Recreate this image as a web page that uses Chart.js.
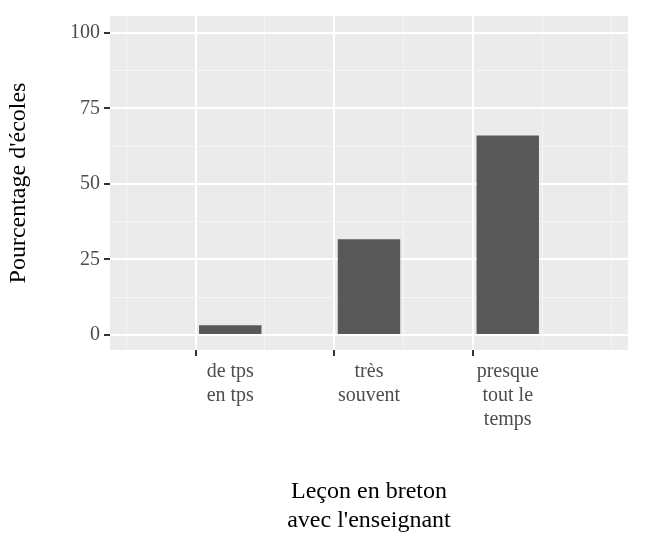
<!DOCTYPE html>
<html><head><meta charset="utf-8">
<script src="https://cdn.jsdelivr.net/npm/chart.js@4"></script>
<style>body{margin:0;background:#fff}#w{width:645px;height:539px}</style>
</head><body><div id="w"><canvas id="c"></canvas></div>
<script>
const categories = [["de tps","en tps"],["très","souvent"],["presque","tout le","temps"]];
const values = [3.2, 31.7, 66];
const yTicks = [0,25,50,75,100];
const F = "'Liberation Serif','DejaVu Serif',serif";
const bg = {id:'bg',beforeDraw(ch){const a=ch.chartArea,c=ch.ctx;c.save();c.fillStyle='#ebebeb';c.fillRect(a.left,a.top,a.right-a.left,a.bottom-a.top);c.restore();}};
const tv = c => (c && c.tick) ? c.tick.value : NaN;
const xMaj = c => { const v=tv(c); return Math.abs(v-Math.round(v))<1e-6; };
const yMaj = c => { const v=tv(c); return yTicks.includes(v); };
new Chart(document.getElementById('c'),{
type:'bar',
data:{datasets:[{data:values.map((v,i)=>({x:i+1,y:v})),backgroundColor:'#595959',barPercentage:0.9,categoryPercentage:1}]},
options:{responsive:true,maintainAspectRatio:false,animation:false,
layout:{padding:{top:15,right:17,left:0,bottom:0}},
plugins:{legend:{display:false},tooltip:{enabled:false}},
scales:{
x:{type:'linear',min:0.4,max:3.6,
 afterBuildTicks(s){s.ticks=[0.5,1,1.5,2,2.5,3,3.5].map(v=>({value:v}));},
 afterFit(s){s.height=189;},
 ticks:{autoSkip:false,maxRotation:0,color:'#4d4d4d',font:{family:F,size:20},padding:4,
  callback:v=>Math.abs(v-Math.round(v))<1e-6?categories[Math.round(v)-1]:''},
 grid:{color:c=>xMaj(c)?'#ffffff':'#f5f5f5',lineWidth:c=>xMaj(c)?2:1,
  tickColor:c=>xMaj(c)?'#333333':'rgba(0,0,0,0)',tickLength:6,tickWidth:2},
 border:{display:false},
 title:{display:true,text:["Leçon en breton","avec l'enseignant"],color:'#000',font:{family:F,size:24,lineHeight:1.2},padding:{top:4}}},
y:{min:-5,max:105.6,
 afterBuildTicks(s){s.ticks=[0,12.5,25,37.5,50,62.5,75,87.5,100].map(v=>({value:v}));},
 afterFit(s){s.width=110;},
 ticks:{color:'#4d4d4d',font:{family:F,size:20},padding:4,callback:v=>yTicks.includes(v)?String(v):''},
 grid:{color:c=>yMaj(c)?'#ffffff':'#f5f5f5',lineWidth:c=>yMaj(c)?2:1,
  tickColor:c=>yMaj(c)?'#333333':'rgba(0,0,0,0)',tickLength:6,tickWidth:2},
 border:{display:false},
 title:{display:true,text:"Pourcentage d'écoles",color:'#000',font:{family:F,size:24},padding:{bottom:6}}}
}},plugins:[bg]});
</script></body></html>
